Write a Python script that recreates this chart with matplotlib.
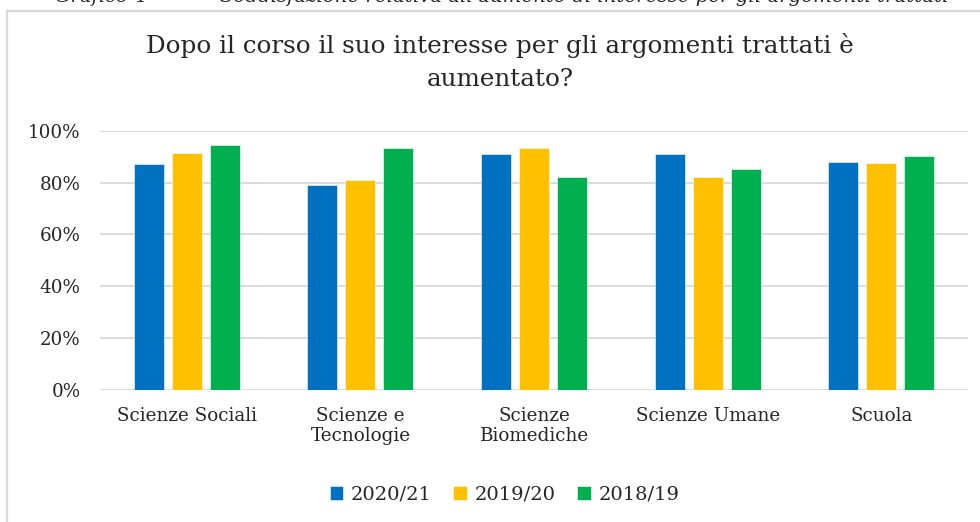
import numpy as np
import matplotlib
matplotlib.use('Agg')
import matplotlib.pyplot as plt
from matplotlib.patches import Rectangle
from matplotlib.ticker import PercentFormatter

# Data
categories = ['Scienze Sociali', 'Scienze e\nTecnologie', 'Scienze\nBiomediche',
              'Scienze Umane', 'Scuola']
years = ['2020/21', '2019/20', '2018/19']
v_2020_21 = [0.870, 0.790, 0.910, 0.910, 0.878]
v_2019_20 = [0.914, 0.809, 0.933, 0.823, 0.874]
v_2018_19 = [0.944, 0.932, 0.823, 0.851, 0.901]
colors = ['#0070C0', '#FFC000', '#00B050']

plt.rcParams['font.family'] = ['DejaVu Serif']
txt = '#262626'

fig = plt.figure(figsize=(9.8, 5.22), dpi=100)
ax = fig.add_axes([0.102, 0.2529, 0.886, 0.4967])

x = np.arange(len(categories))
width = 0.173
step = 0.219
for i, (vals, lab) in enumerate(zip([v_2020_21, v_2019_20, v_2018_19], years)):
    ax.bar(x + (i - 1) * step, vals, width, color=colors[i], label=lab,
           edgecolor='white', linewidth=0.4, zorder=3)

ax.set_xlim(-0.5, len(categories) - 0.5)
ax.set_ylim(0, 1.0)
ax.set_yticks(np.arange(0, 1.01, 0.2))
ax.yaxis.set_major_formatter(PercentFormatter(1.0, decimals=0))
ax.set_xticks(x)
ax.set_xticklabels(categories, linespacing=1.15)
ax.grid(axis='y', color='#D9D9D9', linewidth=1.3, zorder=0)
for s in ax.spines.values():
    s.set_visible(False)
ax.tick_params(axis='both', length=0, labelsize=13.2, colors=txt)
ax.tick_params(axis='y', pad=14)
ax.tick_params(axis='x', pad=12)

# Title
fig.text(0.51, 0.881, 'Dopo il corso il suo interesse per gli argomenti trattati è\naumentato?',
         ha='center', va='center', fontsize=17.7, color=txt, linespacing=1.55)

# Legend
ax.legend(loc='center', bbox_to_anchor=(0.466, -0.405), ncol=3, frameon=False,
          fontsize=14, handlelength=0.7, handleheight=0.7, handletextpad=0.4,
          columnspacing=1.1, labelcolor=txt)

# Chart border (partially cut by the crop)
fig.patches.append(Rectangle((7 / 980, -0.1), 1.1, 1 - 11 / 522 + 0.1,
                             transform=fig.transFigure, fill=False,
                             edgecolor='#D9D9D9', linewidth=1.6))

# Caption above the chart, cut by the crop
fig.text(55 / 980, 1 - 2 / 522, 'Grafico 4', fontsize=14, style='italic',
         va='baseline', color=txt)
fig.text(220 / 980, 1 - 2 / 522,
         "Soddisfazione relativa all'aumento di interesse per gli argomenti trattati",
         fontsize=14.2, style='italic', va='baseline', color=txt)

fig.savefig('out.png', dpi=100)
